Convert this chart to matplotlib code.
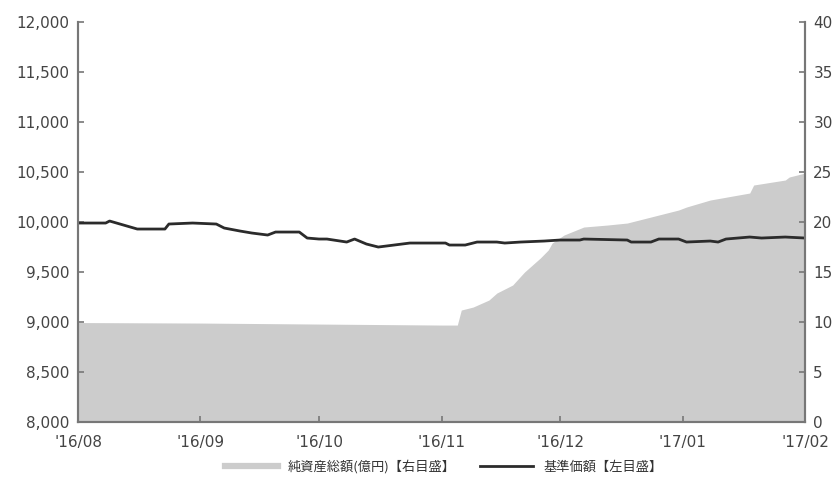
import matplotlib
matplotlib.use("Agg")
import matplotlib.pyplot as plt
import matplotlib.dates as mdates
from matplotlib.ticker import FuncFormatter, MultipleLocator
from matplotlib.lines import Line2D
import pandas as pd

plt.rcParams['font.family'] = ['DejaVu Sans', 'Noto Sans CJK JP']

# 基準価額（円）【左目盛】
nav_dates = [
    "2016-08-01", "2016-08-08", "2016-08-09", "2016-08-16", "2016-08-23", "2016-08-24",
    "2016-08-30", "2016-09-05", "2016-09-07", "2016-09-11", "2016-09-14", "2016-09-18",
    "2016-09-20", "2016-09-26", "2016-09-28", "2016-10-01", "2016-10-03", "2016-10-08",
    "2016-10-10", "2016-10-13", "2016-10-16", "2016-10-18", "2016-10-24", "2016-11-01",
    "2016-11-02", "2016-11-03", "2016-11-07", "2016-11-10", "2016-11-15", "2016-11-17",
    "2016-11-21", "2016-11-27", "2016-12-01", "2016-12-06", "2016-12-07", "2016-12-18",
    "2016-12-19", "2016-12-24", "2016-12-26", "2016-12-31", "2017-01-02", "2017-01-08",
    "2017-01-10", "2017-01-12", "2017-01-18", "2017-01-21", "2017-01-27", "2017-02-01",
]
nav_values = [
    9990, 9990, 10010, 9930, 9930, 9980,
    9990, 9980, 9940, 9910, 9890, 9870,
    9900, 9900, 9840, 9830, 9830, 9800,
    9830, 9780, 9750, 9760, 9790, 9790,
    9790, 9770, 9770, 9800, 9800, 9790,
    9800, 9810, 9820, 9820, 9830, 9820,
    9800, 9800, 9830, 9830, 9800, 9810,
    9800, 9830, 9850, 9840, 9850, 9840,
]

# 純資産総額（億円）【右目盛】
aum_dates = [
    "2016-08-01", "2016-09-01", "2016-10-01", "2016-11-01", "2016-11-05", "2016-11-06",
    "2016-11-09", "2016-11-13", "2016-11-15", "2016-11-19", "2016-11-22", "2016-11-24",
    "2016-11-26", "2016-11-28", "2016-11-29", "2016-12-02", "2016-12-07", "2016-12-13",
    "2016-12-18", "2016-12-23", "2016-12-26", "2016-12-31", "2017-01-02", "2017-01-08",
    "2017-01-18", "2017-01-19", "2017-01-27", "2017-01-28", "2017-02-01",
]
aum_values = [
    9.95, 9.9, 9.8, 9.7, 9.7, 11.2,
    11.5, 12.2, 12.9, 13.7, 15.0, 15.7,
    16.4, 17.2, 17.9, 18.7, 19.5, 19.7,
    19.9, 20.4, 20.7, 21.2, 21.5, 22.2,
    22.9, 23.7, 24.2, 24.5, 24.9,
]

month_ticks = ["2016-08-01", "2016-09-01", "2016-10-01", "2016-11-01",
               "2016-12-01", "2017-01-01", "2017-02-01"]

nav_x = pd.to_datetime(nav_dates)
aum_x = pd.to_datetime(aum_dates)
ticks_x = pd.to_datetime(month_ticks)

fill_color = "#cccccc"
line_color = "#2b2b2b"
axis_color = "#777777"
text_color = "#444444"

fig = plt.figure(figsize=(8.37, 4.78), dpi=100)
ax = fig.add_axes([0.0932, 0.117, 0.8686, 0.837])
ax2 = ax.twinx()

# 面グラフは右軸、折れ線は左軸（折れ線を前面に）
ax2.fill_between(aum_x, 0, aum_values, color=fill_color, linewidth=0)
ax.plot(nav_x, nav_values, color=line_color, linewidth=2.0)
ax.set_zorder(ax2.get_zorder() + 1)
ax.patch.set_visible(False)

ax.set_xlim(ticks_x[0], ticks_x[-1])
ax.set_ylim(8000, 12000)
ax2.set_ylim(0, 40)
ax.yaxis.set_major_locator(MultipleLocator(500))
ax2.yaxis.set_major_locator(MultipleLocator(5))
ax.yaxis.set_major_formatter(FuncFormatter(lambda v, p: f"{int(v):,}"))

ax.set_xticks(ticks_x)
ax.xaxis.set_major_formatter(mdates.DateFormatter("'%y/%m"))

for a in (ax, ax2):
    for side in ("left", "right", "bottom"):
        a.spines[side].set_color(axis_color)
        a.spines[side].set_linewidth(1.5)
    a.spines["top"].set_visible(False)
    a.tick_params(direction="in", length=4, width=1.2, color=axis_color,
                  labelsize=11, labelcolor=text_color, pad=6)
ax.tick_params(axis="x", pad=9)

handles = [
    Line2D([0], [0], color=fill_color, linewidth=4.5),
    Line2D([0], [0], color=line_color, linewidth=2),
]
labels = ["純資産総額(億円)【右目盛】", "基準価額【左目盛】"]
fig.legend(handles, labels, loc="center", bbox_to_anchor=(0.53, 0.024), ncol=2,
           frameon=False, handlelength=4, columnspacing=1.8,
           prop={"family": ["Noto Sans CJK JP", "DejaVu Sans"], "size": 9.5},
           labelcolor="#333333")

fig.savefig("out.png", dpi=100)
